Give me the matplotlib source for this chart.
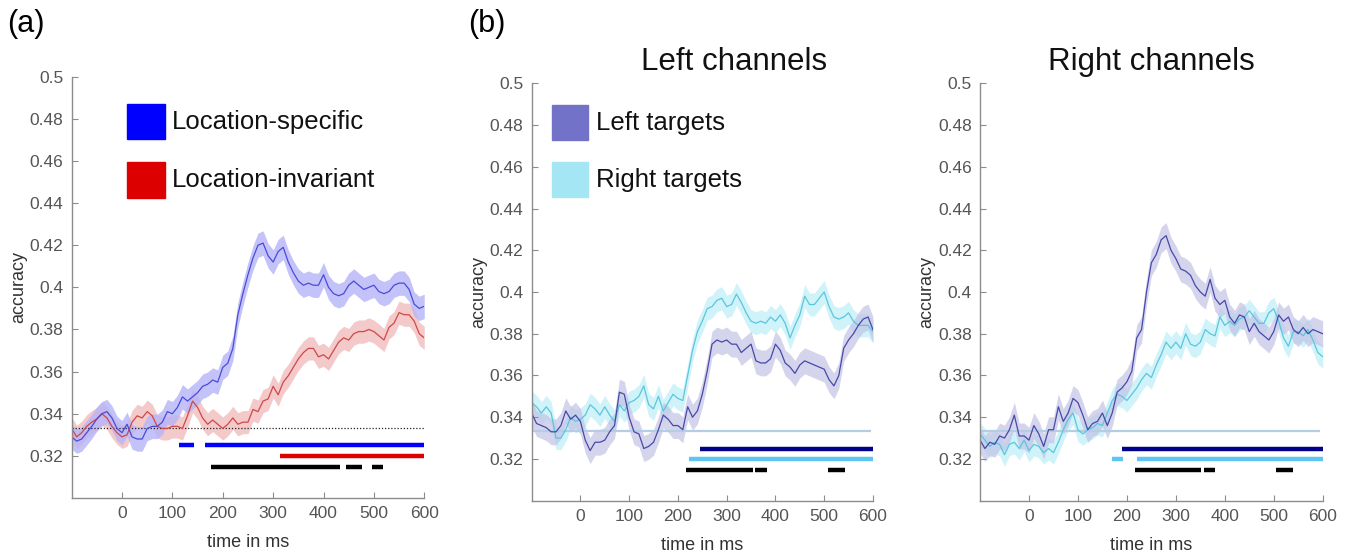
import numpy as np
import matplotlib
matplotlib.use("Agg")
import matplotlib.pyplot as plt
from matplotlib.patches import Rectangle

plt.rcParams['font.family'] = ['Liberation Sans', 'DejaVu Sans']

# time axis (ms), one sample every 10 ms
times = np.arange(-100, 601, 10)

# ---- panel (a) ----
spec_a = [
    0.329, 0.327, 0.328, 0.331, 0.334, 0.3375, 0.340, 0.341, 0.338, 0.333,
    0.331, 0.335, 0.329, 0.328, 0.328, 0.333, 0.334, 0.334, 0.336, 0.341,
    0.340, 0.343, 0.348, 0.346, 0.348, 0.350, 0.353, 0.354, 0.356, 0.355,
    0.362, 0.364, 0.371, 0.387, 0.397, 0.406, 0.414, 0.420, 0.421, 0.415,
    0.412, 0.417, 0.419, 0.412, 0.407, 0.403, 0.401, 0.402, 0.401, 0.401,
    0.406, 0.400, 0.397, 0.396, 0.397, 0.401, 0.403, 0.401, 0.399, 0.400,
    0.401, 0.398, 0.397, 0.398, 0.401, 0.402, 0.402, 0.399, 0.392, 0.390,
    0.391]
inv_a = [
    0.333, 0.329, 0.331, 0.334, 0.336, 0.3375, 0.340, 0.338, 0.334, 0.331,
    0.329, 0.330, 0.336, 0.339, 0.338, 0.341, 0.339, 0.334, 0.333, 0.333,
    0.334, 0.334, 0.333, 0.339, 0.346, 0.343, 0.338, 0.335, 0.337, 0.335,
    0.333, 0.335, 0.338, 0.335, 0.336, 0.336, 0.342, 0.341, 0.346, 0.347,
    0.353, 0.349, 0.355, 0.358, 0.362, 0.366, 0.369, 0.371, 0.371, 0.367,
    0.368, 0.366, 0.370, 0.374, 0.376, 0.375, 0.378, 0.379, 0.379, 0.380,
    0.379, 0.377, 0.375, 0.381, 0.383, 0.388, 0.387, 0.387, 0.384, 0.378,
    0.376]
sem_spec_a = 0.0058
sem_inv_a = 0.0055

# significant clusters (start, end) in ms
sig_spec_a = [(113, 143), (165, 600)]
sig_inv_a = [(314, 600)]
sig_diff_a = [(177, 433), (445, 477), (497, 518)]

# ---- panel (b) left channels ----
lt_left = [
    0.342, 0.337, 0.336, 0.335, 0.333, 0.333, 0.336, 0.343, 0.339, 0.341,
    0.338, 0.329, 0.324, 0.328, 0.328, 0.329, 0.333, 0.336, 0.352, 0.351,
    0.340, 0.333, 0.332, 0.325, 0.326, 0.328, 0.334, 0.341, 0.339, 0.336,
    0.336, 0.334, 0.345, 0.340, 0.343, 0.351, 0.362, 0.375, 0.377, 0.376,
    0.377, 0.375, 0.375, 0.371, 0.373, 0.375, 0.367, 0.366, 0.366, 0.368,
    0.375, 0.372, 0.366, 0.364, 0.361, 0.365, 0.367, 0.366, 0.365, 0.364,
    0.363, 0.358, 0.355, 0.360, 0.373, 0.377, 0.380, 0.384, 0.387, 0.388,
    0.382]
rt_left = [
    0.347, 0.345, 0.342, 0.345, 0.342, 0.330, 0.330, 0.334, 0.340, 0.338,
    0.339, 0.341, 0.346, 0.344, 0.341, 0.345, 0.341, 0.338, 0.346, 0.343,
    0.347, 0.348, 0.350, 0.355, 0.346, 0.344, 0.350, 0.343, 0.347, 0.351,
    0.349, 0.348, 0.360, 0.372, 0.381, 0.386, 0.392, 0.393, 0.396, 0.397,
    0.393, 0.394, 0.399, 0.395, 0.390, 0.386, 0.385, 0.386, 0.385, 0.388,
    0.386, 0.389, 0.385, 0.378, 0.384, 0.389, 0.398, 0.394, 0.394, 0.397,
    0.400, 0.393, 0.388, 0.387, 0.388, 0.390, 0.386, 0.384, 0.384, 0.384,
    0.381]
sig_lt_left = [(246, 600)]
sig_rt_left = [(222, 600)]
sig_diff_left = [(217, 353), (358, 382), (507, 543)]

# ---- panel (b) right channels ----
lt_right = [
    0.329, 0.325, 0.328, 0.327, 0.331, 0.330, 0.334, 0.341, 0.331, 0.331,
    0.329, 0.336, 0.332, 0.326, 0.334, 0.334, 0.345, 0.338, 0.342, 0.349,
    0.347, 0.341, 0.334, 0.337, 0.338, 0.342, 0.336, 0.342, 0.352, 0.354,
    0.357, 0.362, 0.378, 0.382, 0.400, 0.414, 0.418, 0.425, 0.427, 0.420,
    0.416, 0.411, 0.410, 0.408, 0.403, 0.400, 0.398, 0.406, 0.397, 0.394,
    0.396, 0.388, 0.385, 0.389, 0.388, 0.381, 0.385, 0.381, 0.379, 0.377,
    0.381, 0.389, 0.386, 0.388, 0.382, 0.380, 0.383, 0.380, 0.382, 0.381,
    0.380]
rt_right = [
    0.332, 0.329, 0.326, 0.328, 0.327, 0.322, 0.327, 0.328, 0.325, 0.329,
    0.324, 0.327, 0.326, 0.323, 0.325, 0.323, 0.328, 0.334, 0.339, 0.342,
    0.334, 0.332, 0.334, 0.335, 0.337, 0.336, 0.342, 0.348, 0.351, 0.350,
    0.348, 0.351, 0.354, 0.358, 0.361, 0.359, 0.365, 0.370, 0.376, 0.373,
    0.376, 0.373, 0.380, 0.375, 0.374, 0.376, 0.382, 0.380, 0.379, 0.388,
    0.384, 0.386, 0.384, 0.387, 0.388, 0.391, 0.388, 0.385, 0.385, 0.390,
    0.392, 0.386, 0.378, 0.374, 0.381, 0.381, 0.379, 0.382, 0.377, 0.371,
    0.369]
sig_lt_right = [(189, 600)]
sig_rt_right = [(169, 193), (221, 600)]
sig_diff_right = [(216, 352), (357, 381), (505, 540)]

sem_lt = 0.0062
sem_rt = 0.0055
chance = 1.0 / 3

# colours
c_spec, c_spec_band, c_spec_bar = '#4a4ade', '#b4b4f8', '#0000ff'
c_inv, c_inv_band, c_inv_bar = '#d04848', '#f0bcbc', '#dd0000'
c_lt, c_lt_band, c_lt_patch, c_lt_bar = '#4848a8', '#c2c2e6', '#7272c8', '#00008b'
c_rt, c_rt_band, c_rt_patch, c_rt_bar = '#5ac6dc', '#c4f0f8', '#a4e6f3', '#5ec4f0'
c_axis = '#8c8c8c'
c_text = '#555555'


def style_axes(ax):
    ax.set_xlim(-100, 600)
    ax.set_ylim(0.30, 0.50)
    ax.set_xticks(np.arange(0, 601, 100))
    ax.set_yticks(np.arange(0.32, 0.501, 0.02))
    ax.set_yticklabels(['0.32', '0.34', '0.36', '0.38', '0.4', '0.42',
                        '0.44', '0.46', '0.48', '0.5'])
    for s in ['top', 'right']:
        ax.spines[s].set_visible(False)
    for s in ['left', 'bottom']:
        ax.spines[s].set_color(c_axis)
        ax.spines[s].set_linewidth(1.0)
    ax.tick_params(direction='in', length=4, color=c_axis, labelsize=12.5,
                   labelcolor=c_text, pad=6)
    ax.set_xlabel('time in ms', fontsize=13, color='#333333', labelpad=9)
    ax.set_ylabel('accuracy', fontsize=13, color='#333333', labelpad=2)


def plot_series(ax, y, sem, line_c, band_c, alpha=0.8):
    y = np.asarray(y)
    ax.fill_between(times, y - sem, y + sem, color=band_c, alpha=alpha, lw=0)
    ax.plot(times, y, color=line_c, lw=0.9)


def sig_bars(ax, spans, level, color, lw=3.2):
    for a, b in spans:
        ax.hlines(level, a, b, color=color, lw=lw)


def legend_box(ax, items, x0, y_tops, w, h, tx):
    for (label, col), yt in zip(items, y_tops):
        ax.add_patch(Rectangle((x0, yt - h), w, h, transform=ax.transAxes,
                               color=col, clip_on=False))
        ax.text(tx, yt - h / 2, label, transform=ax.transAxes, fontsize=18.5,
                va='center', ha='left', color='#111111')


fig = plt.figure(figsize=(13.49, 5.53), dpi=100)
ax_a = fig.add_axes([0.0531, 0.0995, 0.2614, 0.7618])
ax_l = fig.add_axes([0.3941, 0.0946, 0.2530, 0.7548])
ax_r = fig.add_axes([0.7265, 0.0946, 0.2540, 0.7548])

# panel (a)
ax_a.hlines(chance, -100, 600, colors='#222222', linestyles=(0, (1, 1.5)), lw=0.9)
plot_series(ax_a, inv_a, sem_inv_a, c_inv, c_inv_band)
plot_series(ax_a, spec_a, sem_spec_a, c_spec, c_spec_band)
sig_bars(ax_a, sig_spec_a, 0.325, c_spec_bar)
sig_bars(ax_a, sig_inv_a, 0.320, c_inv_bar)
sig_bars(ax_a, sig_diff_a, 0.3148, 'black')
style_axes(ax_a)
legend_box(ax_a, [('Location-specific', c_spec_bar), ('Location-invariant', c_inv_bar)],
           0.157, [0.935, 0.797], 0.108, 0.084, 0.285)

# panel (b) left / right channels
for ax, lt, rt, s_lt, s_rt, s_d in [
        (ax_l, lt_left, rt_left, sig_lt_left, sig_rt_left, sig_diff_left),
        (ax_r, lt_right, rt_right, sig_lt_right, sig_rt_right, sig_diff_right)]:
    ax.hlines(chance, -100, 595, colors='#b4cde4', lw=1.6)
    plot_series(ax, rt, sem_rt, c_rt, c_rt_band)
    plot_series(ax, lt, sem_lt, c_lt, c_lt_band, alpha=0.7)
    sig_bars(ax, s_lt, 0.325, c_lt_bar)
    sig_bars(ax, s_rt, 0.320, c_rt_bar)
    sig_bars(ax, s_d, 0.3148, 'black')
    style_axes(ax)

legend_box(ax_l, [('Left targets', c_lt_patch), ('Right targets', c_rt_patch)],
           0.059, [0.948, 0.811], 0.106, 0.084, 0.19)

fig.text(734 / 1349, 1 - 62 / 553, 'Left channels', fontsize=22.5, ha='center',
         va='center', color='#111111')
fig.text(1151 / 1349, 1 - 62 / 553, 'Right channels', fontsize=22.5, ha='center',
         va='center', color='#111111')
fig.text(26 / 1349, 1 - 24 / 553, '(a)', fontsize=22, ha='center', va='center')
fig.text(487 / 1349, 1 - 24 / 553, '(b)', fontsize=22, ha='center', va='center')

fig.savefig('out.png', dpi=100)
